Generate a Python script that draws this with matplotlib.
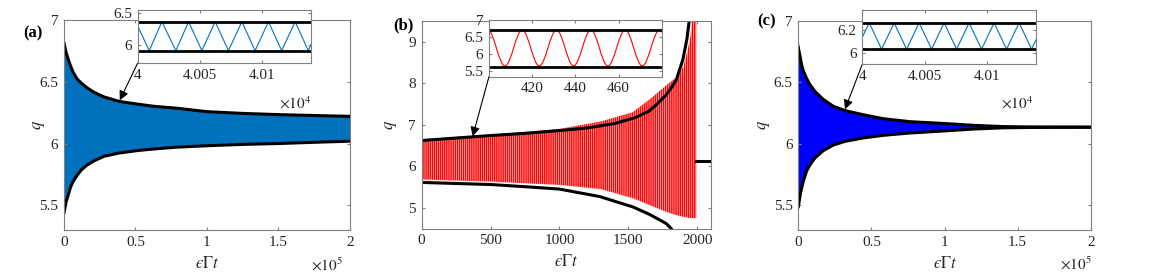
import matplotlib
matplotlib.use('Agg')
import matplotlib.pyplot as plt
from matplotlib.path import Path
from matplotlib.patches import PathPatch

# ---------- data ----------
# (a) envelopes of the decaying oscillation
t_a = [0, 800, 1500, 3000, 4500, 6500, 9000, 12000, 16000, 21000, 28000,
       39000, 52000, 64000, 78000, 100000, 125000, 150000, 175000, 200000]
up_a = [6.81, 6.77, 6.735, 6.68, 6.63, 6.575, 6.525, 6.49, 6.452, 6.415, 6.377,
        6.34, 6.318, 6.30, 6.287, 6.258, 6.244, 6.234, 6.227, 6.22]
lo_a = [5.44, 5.49, 5.53, 5.585, 5.645, 5.695, 5.74, 5.785, 5.825, 5.86, 5.897,
        5.924, 5.944, 5.957, 5.97, 5.982, 5.993, 6.0, 6.01, 6.019]
fill_hi_a = [6.865, 6.80, 6.755, 6.69] + up_a[4:]

# (b) black envelopes, red oscillation band, final level
t_b_up = [0, 250, 500, 785, 1000, 1200, 1400, 1550, 1650, 1700, 1775, 1820,
          1848, 1896, 1925, 1944, 1960]
up_b = [6.62, 6.68, 6.74, 6.80, 6.86, 6.92, 7.03, 7.17, 7.33, 7.47, 7.72, 7.93,
        8.08, 8.57, 9.06, 9.55, 10.2]
t_b_lo = [0, 500, 785, 1000, 1292, 1533, 1654, 1775, 1811, 1840]
lo_b = [5.61, 5.56, 5.50, 5.45, 5.27, 5.02, 4.84, 4.62, 4.50, 4.35]
t_red = [0, 500, 1000, 1300, 1530, 1650, 1775, 1850, 1900, 1930, 1950, 1965, 1993]
red_hi = [6.65, 6.76, 6.9, 7.08, 7.3, 7.6, 7.95, 8.15, 8.4, 8.8, 9.1, 9.6, 10.5]
red_lo = [5.68, 5.63, 5.55, 5.45, 5.23, 5.07, 4.90, 4.82, 4.78, 4.76, 4.75, 4.75, 4.75]
t_end_b = [1993, 2100]
q_end_b = [6.13, 6.13]

# (c) envelopes converging to a fixed point
t_c = [0, 800, 1500, 2300, 3500, 5700, 8000, 11400, 17100, 23900, 31900,
       44500, 58100, 76400, 100000, 120000, 140000, 160000, 200000]
up_c = [6.78, 6.73, 6.69, 6.64, 6.59, 6.53, 6.48, 6.425, 6.36, 6.305, 6.27,
        6.236, 6.204, 6.18, 6.165, 6.15, 6.14, 6.137, 6.135]
lo_c = [5.49, 5.55, 5.60, 5.64, 5.70, 5.78, 5.83, 5.886, 5.945, 5.99, 6.02,
        6.048, 6.069, 6.088, 6.105, 6.12, 6.13, 6.133, 6.135]
fill_hi_c = [6.84, 6.76, 6.71] + up_c[3:]

# insets: levels and times of maxima / minima
ins_a_hi, ins_a_lo = 6.36, 5.915
ins_a_peaks = [39998.4, 40019.5, 40040.9, 40062.2, 40083.6, 40104.9, 40126.3, 40147.5]
ins_a_troughs = [40009.4, 40030.7, 40051.5, 40072.8, 40094.2, 40115.5, 40136.8]

ins_b_hi, ins_b_lo = 6.69, 5.61
ins_b_wave_hi, ins_b_wave_lo = 6.70, 5.64
ins_b_peaks = [399.5, 415.4, 431.3, 447.2, 463.1, 479.0, 494.9]
ins_b_troughs = [391.6, 407.4, 423.3, 439.2, 455.1, 471.0, 486.9]

ins_c_hi, ins_c_lo = 6.264, 6.036
ins_c_peaks = [40005.5, 40025.5, 40045.5, 40065.5, 40085.5, 40105.5, 40125.5, 40145.5]
ins_c_troughs = [39995.5, 40015.5, 40035.5, 40055.5, 40075.5, 40095.5, 40115.5, 40135.5]

xt_main = [0, 50000, 100000, 150000, 200000]
xt_main_lab = ['0', '0.5', '1', '1.5', '2']
xt_ins = [40000, 40050, 40100]
xt_ins_lab = ['4', '4.005', '4.01']

# ---------- style ----------
plt.rcParams['font.family'] = ['Liberation Serif', 'DejaVu Serif']
plt.rcParams['mathtext.fontset'] = 'stix'
plt.rcParams['font.size'] = 11
plt.rcParams['axes.edgecolor'] = '#808080'
plt.rcParams['axes.linewidth'] = 0.8
for k in ['xtick', 'ytick']:
    plt.rcParams[k + '.direction'] = 'in'
    plt.rcParams[k + '.color'] = '#808080'
    plt.rcParams[k + '.labelcolor'] = '#262626'
    plt.rcParams[k + '.major.size'] = 2.5
    plt.rcParams[k + '.major.width'] = 0.8
    plt.rcParams[k + '.major.pad'] = 4
plt.rcParams['xtick.top'] = True
plt.rcParams['ytick.right'] = True
plt.rcParams['hatch.color'] = 'red'
plt.rcParams['hatch.linewidth'] = 1.1

TXT = '#262626'
MBLUE = '#0072BD'
XLAB = '$\u03f5\\Gamma t$'


def waves(peaks, troughs, hi, lo):
    pts = sorted([(p, hi) for p in peaks] + [(s, lo) for s in troughs])
    return [p[0] for p in pts], [p[1] for p in pts]


def smooth_path(xs, ys):
    # cubic Bezier pieces between successive extrema
    verts = [(xs[0], ys[0])]
    codes = [Path.MOVETO]
    for x0, y0, x1, y1 in zip(xs[:-1], ys[:-1], xs[1:], ys[1:]):
        d = 0.3634 * (x1 - x0)
        verts += [(x0 + d, y0), (x1 - d, y1), (x1, y1)]
        codes += [Path.CURVE4] * 3
    return Path(verts, codes)


def main_labels(ax, ylab_x):
    ax.set_xlabel(XLAB, fontsize=12, color=TXT)
    ax.set_ylabel(r'$q$', fontsize=12, color=TXT)
    ax.xaxis.set_label_coords(0.5, -0.125)
    ax.yaxis.set_label_coords(ylab_x, 0.5)


fig = plt.figure(figsize=(11.54, 2.79), dpi=100)

ax_a = fig.add_axes([0.05546, 0.1756, 0.2478, 0.7527])
ax_b = fig.add_axes([0.3654, 0.181, 0.2507, 0.7437])
ax_c = fig.add_axes([0.6918, 0.1756, 0.2534, 0.7502])
in_a = fig.add_axes([0.1192, 0.7731, 0.1503, 0.191])
in_b = fig.add_axes([0.4237, 0.7251, 0.1497, 0.2032])
in_c = fig.add_axes([0.7472, 0.7695, 0.1505, 0.1946])

# ----- (a) -----
ax_a.fill_between(t_a, lo_a, fill_hi_a, color=MBLUE, linewidth=0)
ax_a.plot(t_a, up_a, color='k', lw=2.2)
ax_a.plot(t_a, lo_a, color='k', lw=2.2)
ax_a.set_xlim(0, 200000)
ax_a.set_ylim(5.3, 7)
ax_a.set_xticks(xt_main, xt_main_lab)
ax_a.set_yticks([5.5, 6, 6.5, 7], ['5.5', '6', '6.5', '7'])
main_labels(ax_a, -0.06)
ax_a.text(0.92, -0.165, r'$\times10^{5}$', transform=ax_a.transAxes,
          ha='center', va='center', color=TXT)
ax_a.annotate('', xy=(39000, 6.35), xytext=(0, 0), textcoords=in_a.transAxes,
              arrowprops=dict(arrowstyle='-|>', color='k', lw=0.8,
                              mutation_scale=14, shrinkA=0, shrinkB=0))

xs, ys = waves(ins_a_peaks, ins_a_troughs, ins_a_hi, ins_a_lo)
in_a.plot(xs, ys, color=MBLUE, lw=0.8)
in_a.axhline(ins_a_hi, color='k', lw=2)
in_a.axhline(ins_a_lo, color='k', lw=2)
in_a.set_xlim(40000, 40139)
in_a.set_ylim(5.72, 6.54)
in_a.set_xticks(xt_ins, xt_ins_lab)
in_a.set_yticks([6, 6.5], ['6', '6.5'])
in_a.text(0.91, -0.745, r'$\times10^{4}$', transform=in_a.transAxes,
          ha='center', va='center', color=TXT)

# ----- (b) -----
ax_b.fill_between(t_red, red_lo, red_hi, facecolor='none', edgecolor='red',
                  hatch='|' * 8, linewidth=0)
ax_b.plot(t_b_up, up_b, color='k', lw=2.2)
ax_b.plot(t_b_lo, lo_b, color='k', lw=2.2)
ax_b.plot(t_end_b, q_end_b, color='k', lw=2.2)
ax_b.set_xlim(0, 2100)
ax_b.set_ylim(4.5, 9.5)
ax_b.set_xticks([0, 500, 1000, 1500, 2000])
ax_b.set_yticks([5, 6, 7, 8, 9])
main_labels(ax_b, -0.078)
ax_b.annotate('', xy=(370, 6.72), xytext=(0, 0), textcoords=in_b.transAxes,
              arrowprops=dict(arrowstyle='-|>', color='k', lw=0.8,
                              mutation_scale=14, shrinkA=0, shrinkB=0))

xs, ys = waves(ins_b_peaks, ins_b_troughs, ins_b_wave_hi, ins_b_wave_lo)
in_b.add_patch(PathPatch(smooth_path(xs, ys), fill=False, edgecolor='red', lw=0.8))
in_b.axhline(ins_b_hi, color='k', lw=2)
in_b.axhline(ins_b_lo, color='k', lw=2)
in_b.set_xlim(400, 480)
in_b.set_ylim(5.32, 7.0)
in_b.set_xticks([420, 440, 460])
in_b.set_yticks([5.5, 6, 6.5, 7], ['5.5', '6', '6.5', '7'])

# ----- (c) -----
ax_c.fill_between(t_c, lo_c, fill_hi_c, color='#0000FF', linewidth=0)
ax_c.plot(t_c, up_c, color='k', lw=2.2)
ax_c.plot(t_c, lo_c, color='k', lw=2.2)
ax_c.set_xlim(0, 200000)
ax_c.set_ylim(5.3, 7)
ax_c.set_xticks(xt_main, xt_main_lab)
ax_c.set_yticks([5.5, 6, 6.5, 7], ['5.5', '6', '6.5', '7'])
main_labels(ax_c, -0.09)
ax_c.text(0.948, -0.165, r'$\times10^{5}$', transform=ax_c.transAxes,
          ha='center', va='center', color=TXT)
ax_c.annotate('', xy=(31900, 6.28), xytext=(0, 0), textcoords=in_c.transAxes,
              arrowprops=dict(arrowstyle='-|>', color='k', lw=0.8,
                              mutation_scale=14, shrinkA=0, shrinkB=0))

xs, ys = waves(ins_c_peaks, ins_c_troughs, ins_c_hi, ins_c_lo)
in_c.plot(xs, ys, color=MBLUE, lw=0.8)
in_c.axhline(ins_c_hi, color='k', lw=2)
in_c.axhline(ins_c_lo, color='k', lw=2)
in_c.set_xlim(40000, 40139)
in_c.set_ylim(5.905, 6.375)
in_c.set_xticks(xt_ins, xt_ins_lab)
in_c.set_yticks([6, 6.2], ['6', '6.2'])
in_c.text(0.892, -0.73, r'$\times10^{4}$', transform=in_c.transAxes,
          ha='center', va='center', color=TXT)

# panel letters
fig.text(0.020, 0.882, '(a)', fontsize=12, fontweight='bold', va='center')
fig.text(0.3405, 0.910, '(b)', fontsize=12, fontweight='bold', va='center')
fig.text(0.656, 0.922, '(c)', fontsize=12, fontweight='bold', va='center')

fig.savefig('out.png', dpi=100)
